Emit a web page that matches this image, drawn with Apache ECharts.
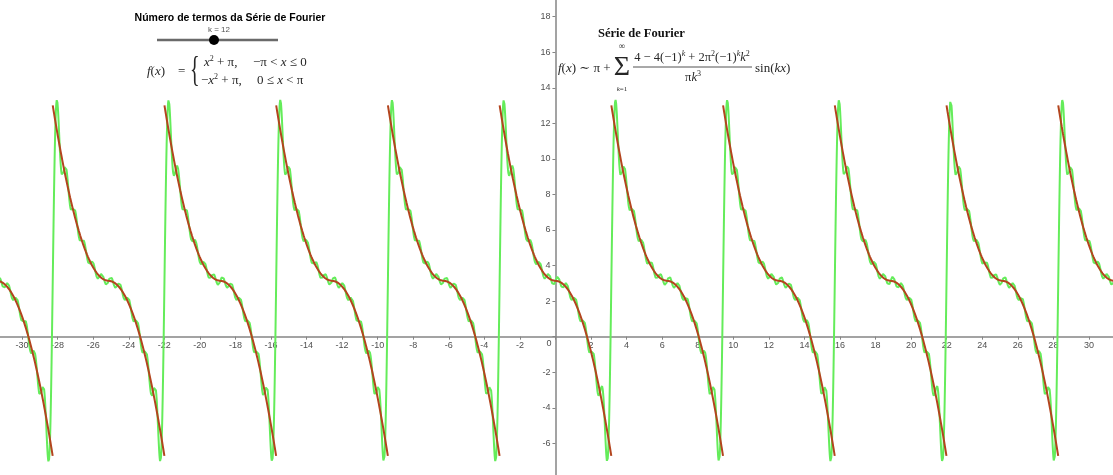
<!DOCTYPE html>
<html>
<head>
<meta charset="utf-8">
<script src="https://cdn.jsdelivr.net/npm/echarts@6/dist/echarts.min.js"></script>
<style>
  html, body { margin: 0; padding: 0; background: #fff; }
  #chart { width: 1113px; height: 475px; }
</style>
</head>
<body>
<div id="chart"></div>
<script>
// view extents in graph units (same scale on both axes)
const xRange = [-32, 32];
const yRange = [-8, 20];
const tickStep = 2;

// slider value shown on the chart: k = 12
const termCount = 12;

// b_k of the printed series (4 - 4(-1)^k + 2pi^2(-1)^k k^2) / (pi k^3), k = 1..12
const sineCoefficients = [-3.7367, 3.1416, -2.0001, 1.5708, -1.2363, 1.0472,
                          -0.8902, 0.7854, -0.6946, 0.6283, -0.5693, 0.5236];

// constant term of the series and of the piecewise function
const offset = Math.PI;
const period = 2 * Math.PI;

const PI = Math.PI;
const step = 0.01;

// Fourier partial sum (green)
const fourierData = [];
for (let i = 0; ; i++) {
  const x = xRange[0] + i * step;
  if (x > xRange[1]) break;
  let s = offset;
  for (let k = 1; k <= termCount; k++) s += sineCoefficients[k - 1] * Math.sin(k * x);
  fourierData.push([x, s]);
}

// f(x) = x^2 + pi on (-pi, 0], -x^2 + pi on [0, pi), repeated every 2pi (red)
const pieceData = [];
for (let n = -6; n <= 6; n++) {
  const c = n * period;
  for (let u = -PI + 0.0001; u <= PI; u += step) {
    pieceData.push([c + u, u <= 0 ? u * u + offset : -u * u + offset]);
  }
  pieceData.push([c + PI, '-']);
}

// pixels per unit and grid placement (origin at 555.5, 336.7)
const unit = 17.78;
const gridLeft = -13.5, gridBottom = -3.9;

const serif = "'Liberation Serif', 'DejaVu Serif', serif";
const sans = "'Liberation Sans', 'DejaVu Sans', sans-serif";
const ink = '#262626';

const mathRich = {
  i: { fontStyle: 'italic', fontFamily: serif, fill: ink },
  sup: { fontSize: 8, lineHeight: 9, verticalAlign: 'top', fontFamily: serif, fill: ink },
  supi: { fontSize: 8, lineHeight: 9, verticalAlign: 'top', fontFamily: serif, fontStyle: 'italic', fill: ink }
};

function mathText(x, y, text, opts, extra) {
  const st = Object.assign({
    text: text, fontFamily: serif, fontSize: 13, fill: ink,
    align: 'left', verticalAlign: 'middle', lineHeight: 16
  }, opts || {});
  const rich = JSON.parse(JSON.stringify(mathRich));
  rich.i.fontSize = st.fontSize;
  st.rich = rich;
  return Object.assign({ type: 'text', x: x, y: y, z: 10, style: st }, extra || {});
}

const chart = echarts.init(document.getElementById('chart'));

const axisCommon = {
  type: 'value', interval: tickStep,
  axisLine: { onZero: false, lineStyle: { color: '#858585', width: 1.5 } },
  axisTick: { show: true, length: 3, lineStyle: { color: '#858585' } },
  splitLine: { show: false },
  axisLabel: {
    interval: 0, fontSize: 9, color: '#505050', fontFamily: sans,
    formatter: v => (v === 0 ? '' : String(v))
  }
};

const option = {
  animation: false,
  backgroundColor: '#fff',
  grid: { left: gridLeft, right: -11.5, top: -18.9, bottom: gridBottom, outerBoundsMode: 'none' },
  xAxis: Object.assign({}, axisCommon, {
    min: xRange[0], max: xRange[1], position: 'bottom',
    offset: -(-yRange[0] * unit),
    axisLabel: Object.assign({}, axisCommon.axisLabel, { margin: 4 })
  }),
  yAxis: Object.assign({}, axisCommon, {
    min: yRange[0], max: yRange[1], position: 'left',
    offset: -(-xRange[0] * unit),
    axisLabel: Object.assign({}, axisCommon.axisLabel, { margin: 5 })
  }),
  series: [
    {
      name: 'Série', type: 'line', data: fourierData, showSymbol: false,
      lineStyle: { color: '#64ec5a', width: 2 }, z: 2
    },
    {
      name: 'f(x)', type: 'line', data: pieceData, showSymbol: false, connectNulls: false,
      lineStyle: { color: '#b3441e', width: 2 }, z: 3
    }
  ],
  graphic: [
    // origin label
    { type: 'text', x: 549, y: 344, style: { text: '0', fontSize: 9, fill: '#505050', fontFamily: sans, align: 'center', verticalAlign: 'middle' } },
    // slider block
    { type: 'text', x: 230, y: 18, z: 10, style: { text: 'Número de termos da Série de Fourier', fontFamily: sans, fontWeight: 'bold', fontSize: 10.5, fill: '#000', align: 'center', verticalAlign: 'middle' } },
    { type: 'text', x: 219, y: 30, z: 10, style: { text: 'k = ' + termCount, fontFamily: sans, fontSize: 8, fill: '#555', align: 'center', verticalAlign: 'middle' } },
    { type: 'line', z: 10, shape: { x1: 157, y1: 40, x2: 278, y2: 40 }, style: { stroke: '#6a6a6a', lineWidth: 2.5 } },
    { type: 'circle', z: 11, shape: { cx: 214, cy: 40, r: 5 }, style: { fill: '#000' } },
    // piecewise definition
    mathText(147, 72, '{i|f}({i|x})'),
    mathText(178, 72, '='),
    mathText(190, 72, '{', { fontSize: 20, lineHeight: 22 }, { scaleY: 1.75 }),
    mathText(204, 63, '{i|x}{sup|2} + π,'),
    mathText(253, 63, '−π < {i|x} ≤ 0'),
    mathText(201, 81, '−{i|x}{sup|2} + π,'),
    mathText(257, 81, '0 ≤ {i|x} < π'),
    // Fourier series block
    { type: 'text', x: 598, y: 34, z: 10, style: { text: 'Série de Fourier', fontFamily: serif, fontWeight: 'bold', fontSize: 12.5, fill: '#111', align: 'left', verticalAlign: 'middle' } },
    mathText(558, 69, '{i|f}({i|x}) ∼ π +'),
    mathText(622, 68, 'Σ', { fontSize: 28, lineHeight: 30, align: 'center' }),
    mathText(622, 47, '∞', { fontSize: 9, align: 'center' }),
    mathText(622, 89, '{i|k}=1', { fontSize: 7, align: 'center' }),
    mathText(692, 58, '4 − 4(−1){supi|k} + 2π{sup|2}(−1){supi|k}{i|k}{sup|2}', { fontSize: 12.5, align: 'center' }),
    { type: 'line', z: 10, shape: { x1: 633, y1: 67, x2: 752, y2: 67 }, style: { stroke: ink, lineWidth: 0.8 } },
    mathText(693, 78, 'π{i|k}{sup|3}', { fontSize: 12.5, align: 'center' }),
    mathText(755, 69, 'sin({i|kx})')
  ]
};

chart.setOption(option);
</script>
</body>
</html>
